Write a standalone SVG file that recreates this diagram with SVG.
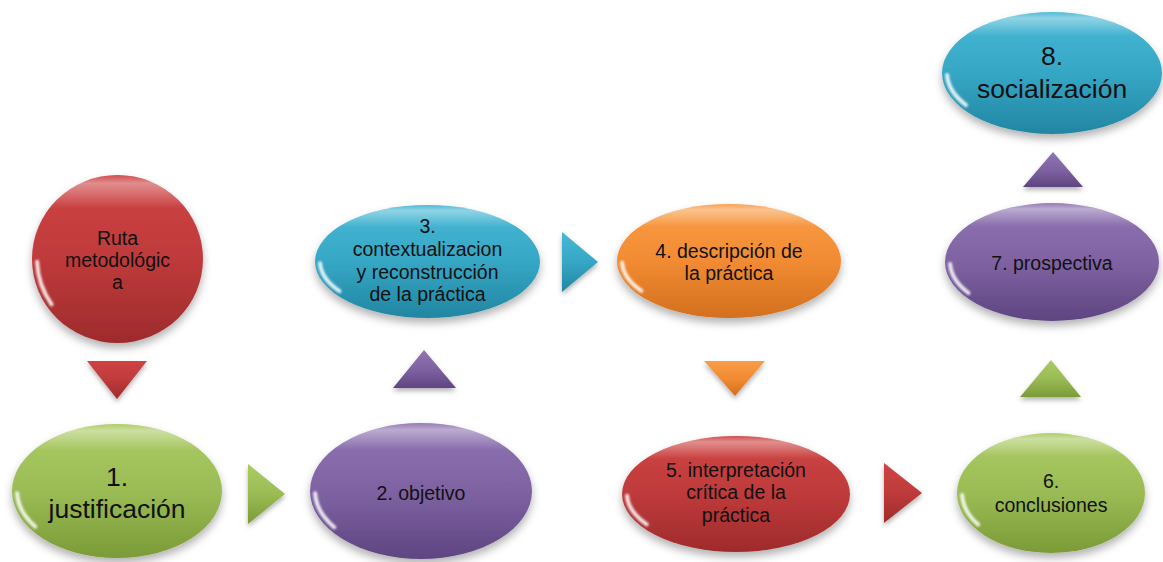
<svg xmlns="http://www.w3.org/2000/svg" width="1163" height="562" viewBox="0 0 1163 562">
<style>
.t{font-family:"Liberation Sans",Arial,sans-serif;font-size:19.5px;fill:#111;text-anchor:middle}
.b{font-size:26.5px}
.hl{fill:url(#gTop)}
.gl{fill:none;stroke:#fff;stroke-width:4;stroke-linecap:round;opacity:.85;filter:url(#blur)}
.sh{filter:url(#shadow)}
.ts{filter:url(#tshadow)}
</style>
<defs>
<filter id="shadow" x="-20%" y="-20%" width="140%" height="150%"><feDropShadow dx="0" dy="5" stdDeviation="4" flood-color="#000" flood-opacity="0.3"/></filter>
<filter id="tshadow" x="-30%" y="-30%" width="160%" height="170%"><feDropShadow dx="0" dy="3" stdDeviation="2.5" flood-color="#000" flood-opacity="0.3"/></filter>
<filter id="blur" x="-50%" y="-50%" width="200%" height="200%"><feGaussianBlur stdDeviation="1.3"/></filter>
<linearGradient id="gTop" x1="0" y1="0" x2="0" y2="1"><stop offset="0" stop-color="#fff" stop-opacity="0.05"/><stop offset="0.05" stop-color="#fff" stop-opacity="0.4"/><stop offset="0.2" stop-color="#fff" stop-opacity="0"/></linearGradient>
<linearGradient id="gRed" x1="0" y1="0" x2="0" y2="1"><stop offset="0" stop-color="#cf4444"/><stop offset="0.5" stop-color="#bf3a3b"/><stop offset="1" stop-color="#9e2b2c"/></linearGradient>
<linearGradient id="gGreen" x1="0" y1="0" x2="0" y2="1"><stop offset="0" stop-color="#abcb63"/><stop offset="0.5" stop-color="#9bbb55"/><stop offset="1" stop-color="#7b9b38"/></linearGradient>
<linearGradient id="gPurple" x1="0" y1="0" x2="0" y2="1"><stop offset="0" stop-color="#8f74b2"/><stop offset="0.5" stop-color="#7f62a2"/><stop offset="1" stop-color="#5e4581"/></linearGradient>
<linearGradient id="gBlue" x1="0" y1="0" x2="0" y2="1"><stop offset="0" stop-color="#47b8d5"/><stop offset="0.5" stop-color="#35a7c5"/><stop offset="1" stop-color="#2286a2"/></linearGradient>
<linearGradient id="gOrange" x1="0" y1="0" x2="0" y2="1"><stop offset="0" stop-color="#f99d47"/><stop offset="0.5" stop-color="#f28b32"/><stop offset="1" stop-color="#d2701f"/></linearGradient>
</defs>

<g id="connectors">
<polygon class="ts" fill="url(#gRed)" points="87,361 147,361 117,399"/>
<polygon class="ts" fill="url(#gGreen)" points="248,464 248,524 285,494"/>
<polygon class="ts" fill="url(#gPurple)" points="393,388 456,388 424,350"/>
<polygon class="ts" fill="url(#gBlue)" points="562,232 562,292 598,262"/>
<polygon class="ts" fill="url(#gOrange)" points="704,361 765,361 735,396"/>
<polygon class="ts" fill="url(#gRed)" points="884,463 884,523 922,493"/>
<polygon class="ts" fill="url(#gGreen)" points="1020,397 1081,397 1051,360"/>
<polygon class="ts" fill="url(#gPurple)" points="1023,187 1083,187 1053,152"/>
</g>

<g id="node-ruta" transform="translate(117.5,259)">
<ellipse class="sh" rx="85.5" ry="84" fill="url(#gRed)"/>
<ellipse class="hl" rx="85.5" ry="84"/>
<path class="gl" d="M-65.9,45.3 A80.5,79 0 0 1 -80.4,2.8"/>
<text class="t" y="-14">Ruta</text>
<text class="t" y="8">metodológic</text>
<text class="t" y="30">a</text>
</g>

<g id="node-1" transform="translate(117,491)">
<ellipse class="sh" rx="105" ry="67" fill="url(#gGreen)"/>
<ellipse class="hl" rx="105" ry="67"/>
<path class="gl" d="M-81.9,35.6 A100,62 0 0 1 -99.9,2.2"/>
<text class="t b" y="-5">1.</text>
<text class="t b" y="27">justificación</text>
</g>

<g id="node-2" transform="translate(421,491)">
<ellipse class="sh" rx="111" ry="68" fill="url(#gPurple)"/>
<ellipse class="hl" rx="111" ry="68"/>
<path class="gl" d="M-86.8,36.2 A106,63 0 0 1 -105.9,2.2"/>
<text class="t" y="9">2. objetivo</text>
</g>

<g id="node-3" transform="translate(427.5,261.5)">
<ellipse class="sh" rx="112.5" ry="56.5" fill="url(#gBlue)"/>
<ellipse class="hl" rx="112.5" ry="56.5"/>
<path class="gl" d="M-88,29.6 A107.5,51.5 0 0 1 -107.4,1.8"/>
<text class="t" y="-28.5">3.</text>
<text class="t" y="-5.5">contextualizacion</text>
<text class="t" y="17">y reconstrucción</text>
<text class="t" y="39">de la práctica</text>
</g>

<g id="node-4" transform="translate(729,261)">
<ellipse class="sh" rx="112" ry="57" fill="url(#gOrange)"/>
<ellipse class="hl" rx="112" ry="57"/>
<path class="gl" d="M-87.6,29.8 A107,52 0 0 1 -106.9,1.8"/>
<text class="t" y="-3">4. descripción de</text>
<text class="t" y="19">la práctica</text>
</g>

<g id="node-5" transform="translate(736,494)">
<ellipse class="sh" rx="114" ry="58" fill="url(#gRed)"/>
<ellipse class="hl" rx="114" ry="58"/>
<path class="gl" d="M-89.3,30.4 A109,53 0 0 1 -108.9,1.8"/>
<text class="t" y="-17">5. interpretación</text>
<text class="t" y="5">crítica de la</text>
<text class="t" y="28">práctica</text>
</g>

<g id="node-6" transform="translate(1051,493)">
<ellipse class="sh" rx="94" ry="60" fill="url(#gGreen)"/>
<ellipse class="hl" rx="94" ry="60"/>
<path class="gl" d="M-72.9,31.6 A89,55 0 0 1 -88.9,1.9"/>
<text class="t" y="-5">6.</text>
<text class="t" y="19">conclusiones</text>
</g>

<g id="node-7" transform="translate(1052,262)">
<ellipse class="sh" rx="107" ry="59" fill="url(#gPurple)"/>
<ellipse class="hl" rx="107" ry="59"/>
<path class="gl" d="M-83.5,31 A102,54 0 0 1 -101.9,1.9"/>
<text class="t" y="8">7. prospectiva</text>
</g>

<g id="node-8" transform="translate(1052,73)">
<ellipse class="sh" rx="110" ry="61" fill="url(#gBlue)"/>
<ellipse class="hl" rx="110" ry="61"/>
<path class="gl" d="M-86,32.1 A105,56 0 0 1 -104.9,2"/>
<text class="t b" y="-8">8.</text>
<text class="t b" y="25">socialización</text>
</g>
</svg>
